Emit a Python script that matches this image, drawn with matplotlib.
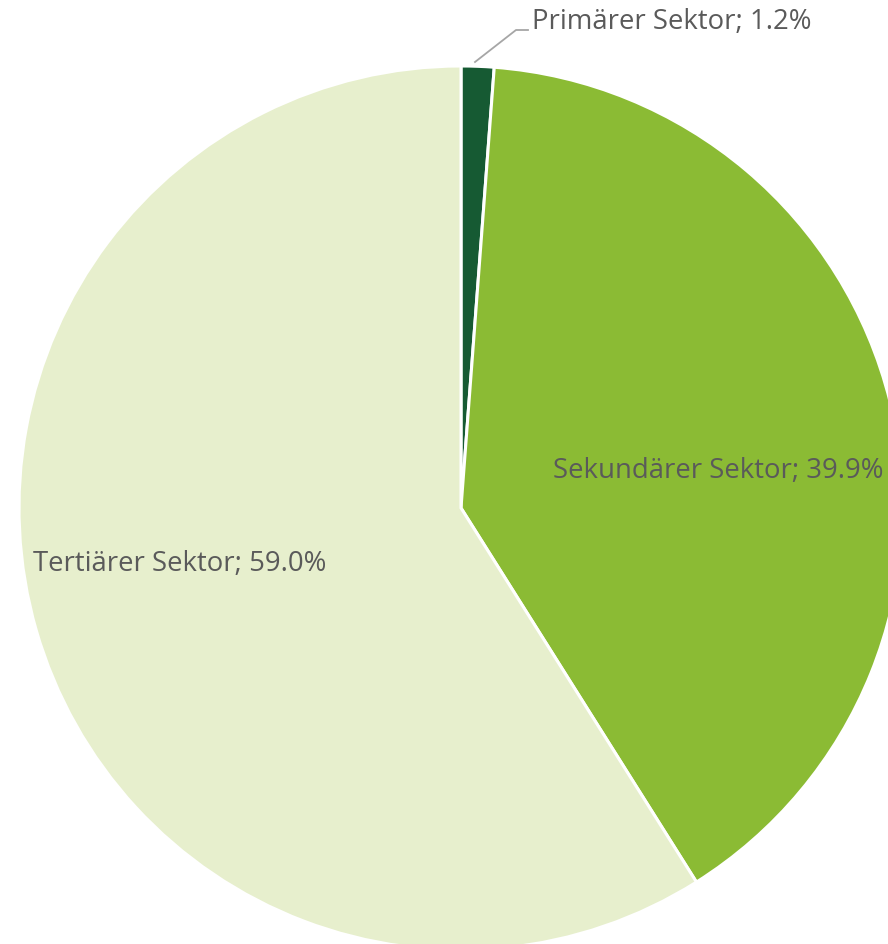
import matplotlib
matplotlib.use("Agg")
import matplotlib.pyplot as plt

categories = ["Primärer Sektor", "Sekundärer Sektor", "Tertiärer Sektor"]
values = [1.2, 39.9, 59.0]
colors = ["#165a33", "#8bbb34", "#e7efcd"]

plt.rcParams['font.family'] = ['Open Sans', 'DejaVu Sans']

W, H = 888, 945
fig = plt.figure(figsize=(W / 100, H / 100), dpi=100)
ax = fig.add_axes([0, 0, 1, 1])

cx, cy, r = 461, H - 509, 442
ax.pie(values, colors=colors, startangle=90, counterclock=False,
       center=(cx, cy), radius=r, frame=True,
       wedgeprops=dict(edgecolor='white', linewidth=2.2))
ax.set_xlim(0, W)
ax.set_ylim(0, H)
ax.set_aspect('equal')
ax.axis('off')

txt = "#5a5a5a"
labels = [f"{c}; {v:.1f}%" for c, v in zip(categories, values)]
fs = 19.8
ax.plot([475, 516, 528], [H - 63, H - 31, H - 31], color="#a6a6a6", lw=1.3)
ax.text(532, H - 22, labels[0], color=txt, fontsize=fs, va='center', ha='left')
ax.text(553, H - 471, labels[1], color=txt, fontsize=fs, va='center', ha='left')
ax.text(33, H - 564, labels[2], color=txt, fontsize=fs, va='center', ha='left')

fig.savefig("out.png", dpi=100)
